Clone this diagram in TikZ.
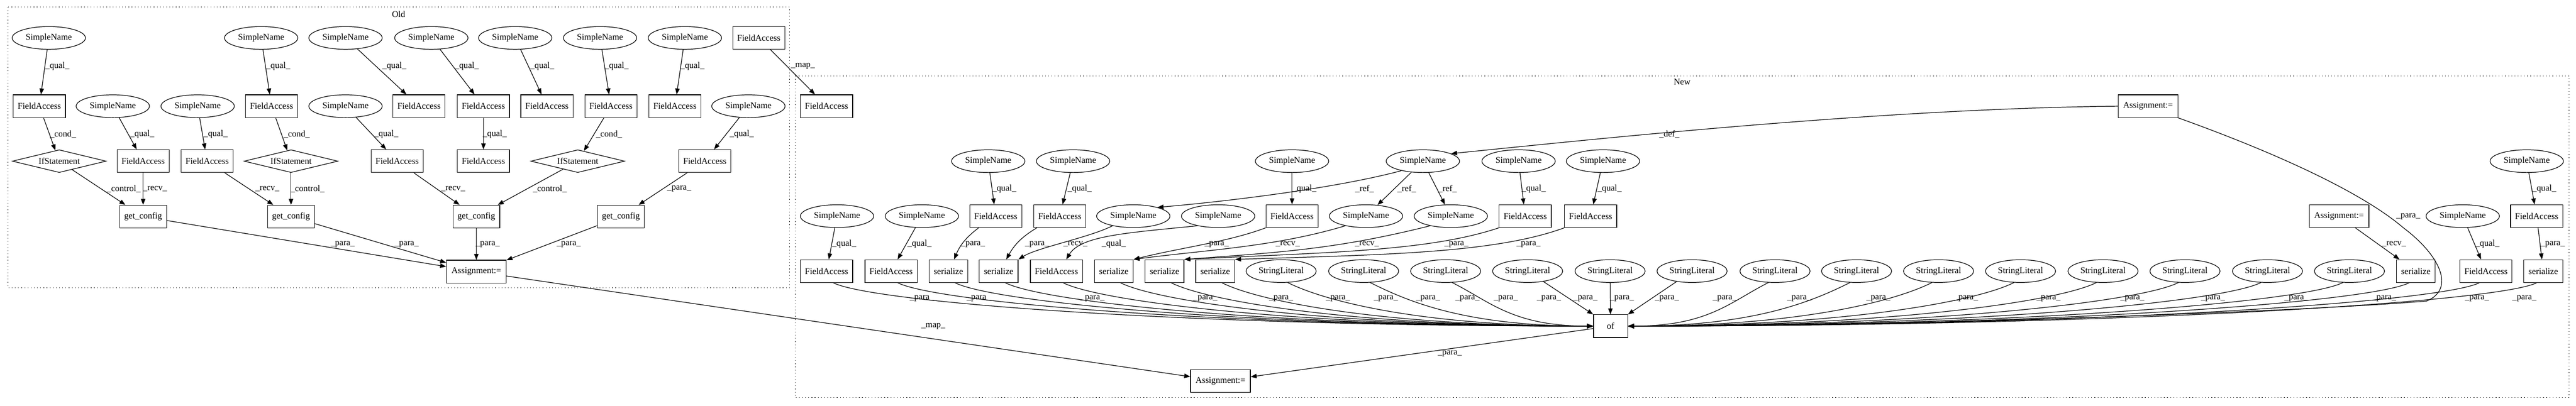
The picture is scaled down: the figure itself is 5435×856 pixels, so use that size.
\documentclass[tikz,border=0pt]{standalone}
\usepackage{fontspec}
\setmainfont{Liberation Serif}
\usetikzlibrary{shapes.geometric,arrows.meta}
\newcommand{\gvfont}{\fontsize{14pt}{16pt}\selectfont}
\newcommand{\elab}[4]{\node[lab] (#1) at (#2,-#3) {\_#4\_};}
\begin{document}
\begin{tikzpicture}[x=0.75pt,y=0.75pt,
  sn/.style={ellipse, draw, line width=1pt, minimum width=116pt, minimum height=36pt, inner sep=0pt, font=\gvfont},
  sl/.style={sn, minimum width=111pt},
  bx/.style={rectangle, draw, line width=1pt, minimum height=36pt, minimum width=54pt, inner xsep=2pt, inner ysep=0pt, font=\gvfont},
  fa/.style={bx, minimum width=82.5pt},
  gc/.style={bx, minimum width=74pt},
  asg/.style={bx, minimum width=94.5pt},
  ser/.style={bx, minimum width=61.5pt},
  ofb/.style={bx, minimum width=54pt},
  ifs/.style={diamond, draw, line width=1pt, minimum width=148.5pt, minimum height=36pt, inner sep=0pt, shape aspect=4, font=\gvfont},
  arr/.style={draw, line width=1pt, -{Triangle[length=9.5pt,width=7pt]}},
  lab/.style={font=\gvfont, inner sep=1pt},
  clus/.style={draw, line width=1pt, dash pattern=on 1pt off 4pt}]
\fill[white] (0,0) rectangle (5435,-856);
\useasboundingbox (0,0) rectangle (5435,-856);
% clusters
\draw[clus] (17,-15) rectangle (1666,-607);
\draw[clus] (1678,-160) rectangle (5420,-839);
\node[font=\gvfont] (oldlab) at (841,-30) {Old};
\node[font=\gvfont] (newlab) at (3549,-173) {New};
% ---------- Old nodes ----------
\node[sn] (o1a) at (103,-80) {SimpleName};
\node[sn] (o1b) at (551,-80) {SimpleName};
\node[sn] (o1c) at (729,-80) {SimpleName};
\node[sn] (o1d) at (910,-80) {SimpleName};
\node[sn] (o1e) at (1087,-80) {SimpleName};
\node[sn] (o1f) at (1266,-80) {SimpleName};
\node[sn] (o1g) at (1445,-80) {SimpleName};
\node[fa] (o1h) at (1601,-80) {FieldAccess};
\node[fa] (o2a) at (83,-224) {FieldAccess};
\node[sn] (o2b) at (238,-224) {SimpleName};
\node[sn] (o2c) at (417,-224) {SimpleName};
\node[fa] (o2d) at (573,-224) {FieldAccess};
\node[sn] (o2e) at (729,-224) {SimpleName};
\node[fa] (o2f) at (884,-224) {FieldAccess};
\node[fa] (o2g) at (1020,-224) {FieldAccess};
\node[fa] (o2h) at (1154,-224) {FieldAccess};
\node[fa] (o2i) at (1289,-224) {FieldAccess};
\node[fa] (o2j) at (1424,-224) {FieldAccess};
\node[sn] (o2k) at (1579,-224) {SimpleName};
\node[ifs] (o3a) at (125,-340) {IfStatement};
\node[fa] (o3b) at (302,-340) {FieldAccess};
\node[fa] (o3c) at (437,-340) {FieldAccess};
\node[ifs] (o3d) at (614,-340) {IfStatement};
\node[fa] (o3e) at (838,-340) {FieldAccess};
\node[fa] (o3f) at (1020,-340) {FieldAccess};
\node[ifs] (o3g) at (1219,-340) {IfStatement};
\node[fa] (o3h) at (1487,-340) {FieldAccess};
\node[gc] (gc1) at (302,-457) {get\_config};
\node[gc] (gc2) at (614,-457) {get\_config};
\node[gc] (gc3) at (1005,-457) {get\_config};
\node[gc] (gc4) at (1310,-457) {get\_config};
\node[asg] (oasg) at (1005,-573) {Assignment:=};
% ---------- New nodes ----------
\node[fa] (nfm) at (1744,-224) {FieldAccess};
\node[asg] (nat) at (4532,-224) {Assignment:=};
\node[sn] (nA1) at (2085,-340) {SimpleName};
\node[sn] (nA2) at (2264,-340) {SimpleName};
\node[sn] (nA3) at (2726,-340) {SimpleName};
\node[sn] (nH) at (3002,-340) {SimpleName};
\node[sn] (nA4) at (3204,-340) {SimpleName};
\node[sn] (nA5) at (3382,-340) {SimpleName};
\node[sn] (nA6) at (5331,-340) {SimpleName};
\node[sn] (nB1) at (1766,-456) {SimpleName};
\node[sn] (nB2) at (1945,-456) {SimpleName};
\node[fa] (nB3) at (2101,-456) {FieldAccess};
\node[fa] (nB4) at (2236,-456) {FieldAccess};
\node[sn] (nB5) at (2391,-456) {SimpleName};
\node[sn] (nB6) at (2570,-456) {SimpleName};
\node[fa] (nB7) at (2726,-456) {FieldAccess};
\node[sn] (nB8) at (2882,-456) {SimpleName};
\node[sn] (nB9) at (3061,-456) {SimpleName};
\node[fa] (nB10) at (3218,-456) {FieldAccess};
\node[fa] (nB11) at (3356,-456) {FieldAccess};
\node[asg] (nB12) at (4935,-456) {Assignment:=};
\node[sn] (nB13) at (5196,-456) {SimpleName};
\node[fa] (nB14) at (5352,-456) {FieldAccess};
\node[fa] (nC1) at (1744,-572) {FieldAccess};
\node[fa] (nC2) at (1880,-572) {FieldAccess};
\node[ser] (nC3) at (2001,-572) {serialize};
\node[ser] (nC4) at (2107,-572) {serialize};
\node[fa] (nC5) at (2229,-572) {FieldAccess};
\node[ser] (nC6) at (2350,-572) {serialize};
\node[ser] (nC7) at (2457,-572) {serialize};
\node[ser] (nC8) at (2564,-572) {serialize};
\foreach \x [count=\i] in {2703,2877,3050,3223,3397,3570,3745,3917,4090,4263,4437,4610,4784,4957}
  \node[sl] (s\i) at (\x,-572) {StringLiteral};
\node[ser] (nC9) at (5097,-572) {serialize};
\node[fa] (nC10) at (5245,-572) {FieldAccess};
\node[ser] (nC11) at (5366,-572) {serialize};
\node[ofb] (of) at (3398,-688) {of};
\node[asg] (nab) at (2575,-804) {Assignment:=};
% ---------- Old edges ----------
\draw[arr] (o1a) -- (o2a);
\draw[arr] (o1b) -- (o2d);
\draw[arr] (o1c) -- (o2f);
\draw[arr] (o1d) -- (o2g);
\draw[arr] (o1e) -- (o2h);
\draw[arr] (o1f) -- (o2i);
\draw[arr] (o1g) -- (o2j);
\draw[arr] (o1h) -- (nfm);
\draw[arr] (o2a) -- (o3a);
\draw[arr] (o2b) -- (o3b);
\draw[arr] (o2c) -- (o3c);
\draw[arr] (o2d) -- (o3d);
\draw[arr] (o2e) -- (o3e);
\draw[arr] (o2g) -- (o3f);
\draw[arr] (o2i) -- (o3g);
\draw[arr] (o2k) -- (o3h);
\draw[arr] (o3a) -- (gc1);
\draw[arr] (o3b) -- (gc1);
\draw[arr] (o3c) -- (gc2);
\draw[arr] (o3d) -- (gc2);
\draw[arr] (o3e) -- (gc3);
\draw[arr] (o3g) -- (gc3);
\draw[arr] (o3h) -- (gc4);
\draw[arr] (gc1) -- (oasg);
\draw[arr] (gc2) -- (oasg);
\draw[arr] (gc3) -- (oasg);
\draw[arr] (gc4) -- (oasg);
\draw[arr] (oasg) -- (nab);
% Old labels
\elab{la1}{121}{139}{qual}
\elab{la2}{587}{139}{qual}
\elab{la3}{832}{139}{qual}
\elab{la4}{985}{139}{qual}
\elab{la5}{1144}{139}{qual}
\elab{la6}{1301}{139}{qual}
\elab{la7}{1461}{139}{qual}
\elab{la8}{1694}{139}{map}
\elab{lb1}{133}{283}{cond}
\elab{lb2}{300}{283}{qual}
\elab{lb3}{455}{283}{qual}
\elab{lb4}{626}{283}{cond}
\elab{lb5}{815}{283}{qual}
\elab{lb6}{1044}{283}{qual}
\elab{lb7}{1285}{283}{cond}
\elab{lb8}{1565}{283}{qual}
\elab{lc1}{261}{398}{control}
\elab{lc2}{327}{398}{recv}
\elab{lc3}{564}{398}{recv}
\elab{lc4}{649}{398}{control}
\elab{lc5}{956}{398}{recv}
\elab{lc6}{1160}{398}{control}
\elab{lc7}{1433}{398}{para}
\elab{ld1}{723}{515}{para}
\elab{ld2}{858}{515}{para}
\elab{ld3}{1029}{515}{para}
\elab{ld4}{1200}{515}{para}
\elab{ld5}{1969}{688}{map}
% ---------- New edges ----------
\draw[arr] (nA1) -- (nB3);
\draw[arr] (nA2) -- (nB4);
\draw[arr] (nA3) -- (nB7);
\draw[arr] (nA4) -- (nB10);
\draw[arr] (nA5) -- (nB11);
\draw[arr] (nA6) -- (nB14);
\draw[arr] (nH) -- (nB8);
\draw[arr] (nH) -- (nB9);
\draw[arr] (nH.204) .. controls +(-150,-40) and +(120,10) .. (nB5.20);
\draw[arr] (nat.west) .. controls +(-500,-5) and +(300,30) .. (nH.15);
\draw[arr] (nB1) -- (nC1);
\draw[arr] (nB2) -- (nC2);
\draw[arr] (nB3) to[bend right=15] (nC3);
\draw[arr] (nB4) to[bend right=15] (nC4);
\draw[arr] (nB5.205) .. controls +(-50,-25) and +(40,25) .. (nC4.north east);
\draw[arr] (nB6.205) .. controls +(-150,-15) and +(30,50) .. (nC5.50);
\draw[arr] (nB7.south west) .. controls +(-80,-30) and +(100,25) .. (nC6.north east);
\draw[arr] (nB8.205) .. controls +(-150,-45) and +(150,20) .. (nC6.north east);
\draw[arr] (nB9.205) .. controls +(-200,-50) and +(200,15) .. (nC7.north east);
\draw[arr] (nB10.south west) .. controls +(-150,-50) and +(300,15) .. (nC7.north east);
\draw[arr] (nB11.south west) .. controls +(-150,-55) and +(300,10) .. (nC8.north east);
\draw[arr] (nB12) -- (nC9);
\draw[arr] (nB13) -- (nC10);
\draw[arr] (nB14) -- (nC11);
% fan into of
\foreach \s/\d in {nC1/890,nC2/815,nC3/750,nC4/690,nC5/620,nC6/555,nC7/500,nC8/440,s1/360,s2/270,s3/170}
  \draw[arr] (\s.-60) .. controls +(80,-40) and +(-\d,0) .. (of.west);
\draw[arr] (s4) -- (of.north west);
\draw[arr] (s5) -- (of);
\draw[arr] (s6) -- (of.north east);
\foreach \s/\d in {s7/170,s8/265,s9/360,s10/455,s11/550,s12/645,s13/740,s14/840,nC9/915,nC10/995,nC11/1060}
  \draw[arr] (\s.-120) .. controls +(-80,-40) and +(\d,0) .. (of.east);
\draw[arr] (nat.south east) .. controls (4850,-340) and (5000,-420) .. (5070,-480)
   .. controls (5150,-540) and (5180,-610) .. (5120,-635)
   .. controls (4900,-655) and (4000,-690) .. (of.east);
\draw[arr] (of) -- (nab);
% New labels
\elab{ma1}{2119}{398}{qual}
\elab{ma2}{2278}{398}{qual}
\elab{ma3}{2752}{398}{qual}
\elab{ma4}{2879}{398}{ref}
\elab{ma5}{2968}{398}{ref}
\elab{ma6}{3054}{398}{ref}
\elab{ma7}{3236}{398}{qual}
\elab{ma8}{3396}{398}{qual}
\elab{ma9}{5368}{398}{qual}
\elab{ma10}{3522}{283}{def}
\elab{ma11}{5081}{457}{para}
\elab{mb1}{1781}{515}{qual}
\elab{mb2}{1940}{515}{qual}
\elab{mb3}{2053}{515}{para}
\elab{mb4}{2188}{515}{para}
\elab{mb5}{2269}{515}{recv}
\elab{mb6}{2350}{515}{qual}
\elab{mb7}{2567}{515}{para}
\elab{mb8}{2717}{515}{recv}
\elab{mb9}{2884}{515}{recv}
\elab{mb10}{3073}{515}{para}
\elab{mb11}{3225}{515}{para}
\elab{mb12}{5051}{515}{recv}
\elab{mb13}{5248}{515}{qual}
\elab{mb14}{5386}{515}{para}
\foreach \x [count=\i] in {1945,2065,2305,2543,2703,2823,2924,3013,3096,3177,3268,3345,3422,3517,3639,3796,3963,4148,4322,4499,4669,4845,5030,5226,5326}
  \node[lab] (fl\i) at (\x,-630) {\_para\_};
\elab{mc1}{3059}{746}{para}
\end{tikzpicture}
\end{document}
